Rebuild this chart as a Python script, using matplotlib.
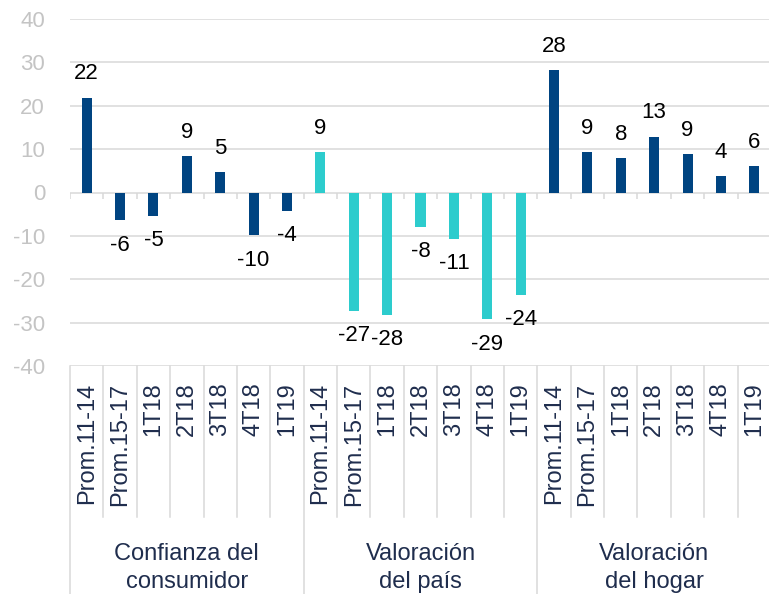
import matplotlib.pyplot as plt
import numpy as np

plt.rcParams['font.family'] = ['Liberation Sans', 'DejaVu Sans']
plt.rcParams['axes.unicode_minus'] = False

# Data
groups = ['Confianza del\nconsumidor', 'Valoración\ndel país', 'Valoración\ndel hogar']
periods = ['Prom.11-14', 'Prom.15-17', '1T18', '2T18', '3T18', '4T18', '1T19']
confianza = [21.9, -6.4, -5.4, 8.5, 4.8, -9.8, -4.2]
pais = [9.4, -27.3, -28.2, -7.9, -10.7, -29.2, -23.6]
hogar = [28.3, 9.4, 8.0, 12.9, 8.8, 3.9, 6.2]
labels = [22, -6, -5, 9, 5, -10, -4,
          9, -27, -28, -8, -11, -29, -24,
          28, 9, 8, 13, 9, 4, 6]

navy = '#004481'
aqua = '#2DCCCD'
grid_c = '#D9D9D9'
text_c = '#1F2D4D'

values = confianza + pais + hogar
colors = [navy] * 7 + [aqua] * 7 + [navy] * 7
x = np.arange(len(values))
n = len(periods)

fig = plt.figure(figsize=(7.69, 5.94), dpi=100)
ax = fig.add_axes([70 / 769, 1 - 366 / 594, 701 / 769, 347 / 594])

ax.set_ylim(-40, 40)
ax.set_xlim(-0.5, len(values) - 0.5)
ax.set_yticks(np.arange(-40, 41, 10))
for y in np.arange(-40, 41, 10):
    ax.axhline(y, color=grid_c, lw=1.1, zorder=0)

ax.bar(x, values, width=0.3, color=colors, zorder=2)

# data labels
for xi, v, lab in zip(x, values, labels):
    if v >= 0:
        ax.annotate(str(lab), (xi, v), xytext=(0, 13), textcoords='offset points',
                    ha='center', va='baseline', fontsize=16, color='black')
    else:
        ax.annotate(str(lab), (xi, v), xytext=(0, -22), textcoords='offset points',
                    ha='center', va='baseline', fontsize=16, color='black')

for s in ax.spines.values():
    s.set_visible(False)

ax.tick_params(axis='y', length=0, pad=18, labelsize=16, labelcolor='#C4C4C4')
ax.set_xticks(x)
ax.set_xticklabels(periods * 3, rotation=90, va='top', ha='center',
                   fontsize=17, color=text_c)
ax.tick_params(axis='x', length=0, pad=12)

# small ticks on the zero line
bounds = np.arange(len(values) + 1) - 0.5
ax.vlines(bounds, -1.6, 0, color=grid_c, lw=1.1, zorder=1)

# category separators below the plot
tr = ax.get_xaxis_transform()
for b in bounds:
    bottom = -0.657 if int(b + 0.5) % n == 0 else -0.435
    ax.plot([b, b], [0, bottom], transform=tr, color=grid_c, lw=1.1, clip_on=False)

for i, g in enumerate(groups):
    ax.text(i * n + (n - 1) / 2, -0.582, g, transform=tr, ha='center', va='center',
            fontsize=17, color=text_c, linespacing=1.35)

fig.savefig('out.png', dpi=100)
